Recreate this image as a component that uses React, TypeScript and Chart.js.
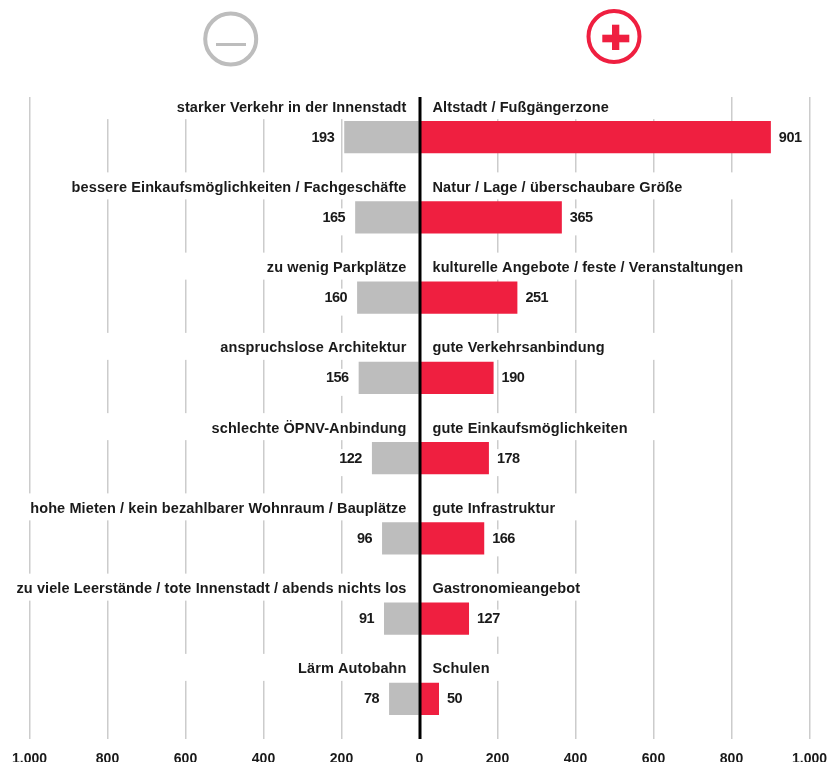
import React, { useEffect, useRef } from "react";
import { Chart, registerables } from "chart.js";

Chart.register(...registerables);

const minusLabels = [
  "starker Verkehr in der Innenstadt",
  "bessere Einkaufsmöglichkeiten / Fachgeschäfte",
  "zu wenig Parkplätze",
  "anspruchslose Architektur",
  "schlechte ÖPNV-Anbindung",
  "hohe Mieten / kein bezahlbarer Wohnraum / Bauplätze",
  "zu viele Leerstände / tote Innenstadt / abends nichts los",
  "Lärm Autobahn",
];
const plusLabels = [
  "Altstadt / Fußgängerzone",
  "Natur / Lage / überschaubare Größe",
  "kulturelle Angebote / feste / Veranstaltungen",
  "gute Verkehrsanbindung",
  "gute Einkaufsmöglichkeiten",
  "gute Infrastruktur",
  "Gastronomieangebot",
  "Schulen",
];
const minusValues = [193, 165, 160, 156, 122, 96, 91, 78];
const plusValues = [901, 365, 251, 190, 178, 166, 127, 50];
const tickValues = [-1000, -800, -600, -400, -200, 0, 200, 400, 600, 800, 1000];

const GREY = "#bdbdbd";
const RED = "#ef1f40";
const INK = "#1a1a1a";
const LABEL_FONT = "bold 14.5px 'Liberation Sans', Arial, sans-serif";
const LABEL_SPACING = "0.1px";
const VALUE_FONT = "bold 14.5px 'Liberation Sans', Arial, sans-serif";
const VALUE_SPACING = "-0.5px";

const labelsPlugin = {
  id: "divergingLabels",
  beforeDatasetsDraw(chart: any) {
    const { ctx, chartArea, scales } = chart;
    const zero = scales.x.getPixelForValue(0);
    ctx.save();
    ctx.fillStyle = "#ffffff";
    minusLabels.forEach((text, i) => {
      const c = scales.y.getPixelForValue(i);
      ctx.font = LABEL_FONT;
      (ctx as any).letterSpacing = LABEL_SPACING;
      const lw = ctx.measureText(text).width;
      const rw = ctx.measureText(plusLabels[i]).width;
      const textLeft = zero - 13 - lw;
      const boxLeft = textLeft < 50 ? textLeft - 10 : Math.max(chartArea.left + 2, textLeft - 120);
      ctx.fillRect(boxLeft, c - 45, zero - boxLeft, 27);
      const textRight = zero + 13 + rw;
      ctx.fillRect(zero, c - 45, textRight + 60 - zero, 27);

      ctx.font = VALUE_FONT;
      (ctx as any).letterSpacing = VALUE_SPACING;
      const lv = ctx.measureText(String(minusValues[i])).width;
      const rv = ctx.measureText(String(plusValues[i])).width;
      const lEnd = scales.x.getPixelForValue(-minusValues[i]) - 10;
      ctx.fillRect(lEnd - lv - 2, c - 9, lv + 4, 27);
      const rStart = scales.x.getPixelForValue(plusValues[i]) + 8;
      ctx.fillRect(rStart - 2, c - 9, rv + 4, 27);
      (ctx as any).letterSpacing = "0px";
    });
    ctx.restore();
  },
  afterDatasetsDraw(chart: any) {
    const { ctx, chartArea, scales } = chart;
    const zero = scales.x.getPixelForValue(0);
    ctx.save();
    ctx.strokeStyle = "#000000";
    ctx.lineWidth = 3;
    ctx.beginPath();
    ctx.moveTo(zero + 0.5, chartArea.top);
    ctx.lineTo(zero + 0.5, chartArea.bottom);
    ctx.stroke();

    ctx.fillStyle = INK;
    ctx.textBaseline = "middle";
    minusLabels.forEach((text, i) => {
      const c = scales.y.getPixelForValue(i);
      ctx.font = LABEL_FONT;
      (ctx as any).letterSpacing = LABEL_SPACING;
      ctx.textAlign = "right";
      ctx.fillText(text, zero - 13, c - 29.5);
      ctx.textAlign = "left";
      ctx.fillText(plusLabels[i], zero + 13, c - 29.5);
      ctx.font = VALUE_FONT;
      (ctx as any).letterSpacing = VALUE_SPACING;
      ctx.textAlign = "right";
      ctx.fillText(String(minusValues[i]), scales.x.getPixelForValue(-minusValues[i]) - 10, c + 0.5);
      ctx.textAlign = "left";
      ctx.fillText(String(plusValues[i]), scales.x.getPixelForValue(plusValues[i]) + 8, c + 0.5);
      (ctx as any).letterSpacing = "0px";
    });
    ctx.restore();
  },
};

export default function App() {
  const ref = useRef<HTMLCanvasElement>(null);
  useEffect(() => {
    document.body.style.margin = "0";
    const chart = new Chart(ref.current!, {
      type: "bar",
      data: {
        labels: minusLabels,
        datasets: [
          { label: "−", data: minusValues.map((v) => -v), backgroundColor: GREY },
          { label: "+", data: plusValues, backgroundColor: RED },
        ],
      },
      plugins: [labelsPlugin],
      options: {
        indexAxis: "y",
        responsive: false,
        animation: false,
        events: [],
        layout: { padding: { left: 29, right: 26.5, top: 97, bottom: 0 } },
        datasets: { bar: { barPercentage: 0.4, categoryPercentage: 1 } },
        plugins: { legend: { display: false }, tooltip: { enabled: false } },
        scales: {
          x: {
            stacked: true,
            min: -1000,
            max: 1000,
            afterBuildTicks(scale: any) {
              scale.ticks = tickValues.map((value) => ({ value }));
            },
            afterFit(scale: any) {
              scale.height = 23;
            },
            grid: {
              color: (c: any) => (c.tick && c.tick.value === 0 ? "rgba(0,0,0,0)" : "#cccccc"),
              lineWidth: 1.5,
              drawTicks: false,
            },
            border: { display: false },
            ticks: {
              autoSkip: false,
              maxRotation: 0,
              padding: 12,
              color: INK,
              font: { family: "'Liberation Sans', Arial, sans-serif", size: 14, weight: "bold" },
              callback: (v: any) => {
                const a = Math.abs(Number(v));
                return a >= 1000 ? `${Math.floor(a / 1000)}.${String(a % 1000).padStart(3, "0")}` : String(a);
              },
            },
          },
          y: {
            stacked: true,
            display: false,
          },
        },
      },
    } as any);
    return () => chart.destroy();
  }, []);

  return (
    <div style={{ position: "relative", width: 839, height: 762, overflow: "hidden", background: "#fff" }}>
      <canvas ref={ref} width={839} height={762} style={{ display: "block" }} />
      <svg width={839} height={762} style={{ position: "absolute", left: 0, top: 0, pointerEvents: "none" }}>
        <circle cx={230.7} cy={39} r={25.5} fill="none" stroke={GREY} strokeWidth={4} />
        <rect x={216} y={43} width={30} height={3} fill={GREY} />
        <circle cx={614} cy={36.5} r={25.5} fill="none" stroke={RED} strokeWidth={4} />
        <rect x={602.3} y={34.7} width={27} height={7.6} fill={RED} />
        <rect x={612} y={24.7} width={7.3} height={25.3} fill={RED} />
      </svg>
    </div>
  );
}
